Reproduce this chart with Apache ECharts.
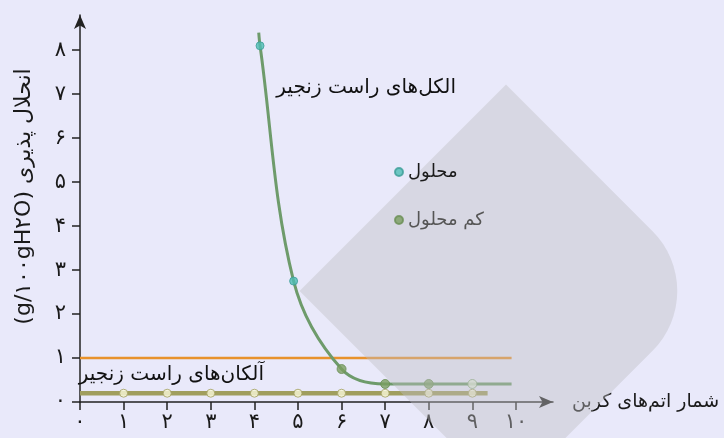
<!DOCTYPE html>
<html>
<head>
<meta charset="utf-8">
<script src="https://cdn.jsdelivr.net/npm/echarts@6/dist/echarts.min.js"></script>
<style>
  html, body { margin: 0; padding: 0; background: #E9E9FA; }
  #chart { width: 724px; height: 438px; }
</style>
</head>
<body>
<div id="chart" dir="rtl"></div>
<script>
// ---- data ----
const xTicks = [0, 1, 2, 3, 4, 5, 6, 7, 8, 9, 10];
const yTicks = [0, 1, 2, 3, 4, 5, 6, 7, 8];
const faDigits = ['۰', '۱', '۲', '۳', '۴', '۵', '۶', '۷', '۸', '۹'];

// straight-chain alcohols (curve drawn through these)
const alcoholX = [4.1, 4.13, 4.9, 6, 7, 8, 9, 9.9];
const alcoholY = [8.4, 8.1, 2.75, 0.75, 0.41, 0.41, 0.41, 0.41];
// soluble points
const solubleX = [4.13, 4.9];
const solubleY = [8.1, 2.75];
// slightly soluble points
const lessSolubleX = [6, 7, 8];
const lessSolubleY = [0.75, 0.41, 0.41];
// faded point at end of alcohol line
const fadedX = [9];
const fadedY = [0.41];

// straight-chain alkanes
const alkaneLineX = [0, 9.35];
const alkaneLineY = [0.2, 0.2];
const alkaneX = [1, 2, 3, 4, 5, 6, 7, 8, 9];
const alkaneY = [0.2, 0.2, 0.2, 0.2, 0.2, 0.2, 0.2, 0.2, 0.2];

// reference line at 1 g
const refLineX = [0, 9.9];
const refLineY = [1, 1];

const toFa = n => String(n).split('').map(c => (c >= '0' && c <= '9') ? faDigits[+c] : c).join('');
const zip = (xs, ys) => xs.map((x, i) => [x, ys[i]]);

const chart = echarts.init(document.getElementById('chart'), null, { renderer: 'canvas' });
const font = "'DejaVu Sans', 'Noto Sans', sans-serif";

chart.setOption({
  backgroundColor: '#E9E9FA',
  animation: false,
  textStyle: { fontFamily: font },
  grid: { left: 80, right: 171, top: 15, bottom: 36 },
  legend: {
    orient: 'vertical',
    left: 389,
    top: 158,
    itemWidth: 8,
    itemHeight: 8,
    itemGap: 30,
    icon: 'circle',
    z: 20,
    selectedMode: false,
    data: [
      { name: 'محلول', textStyle: { color: '#1a1a1a' } },
      { name: 'کم محلول', textStyle: { color: '#555' } }
    ],
    textStyle: { fontSize: 18, fontFamily: font }
  },
  xAxis: {
    type: 'value',
    min: 0,
    max: 10.85,
    name: 'شمار اتم‌های کربن',
    nameLocation: 'end',
    nameGap: 19,
    nameTextStyle: { fontSize: 19, color: '#1a1a1a', fontFamily: font, verticalAlign: 'middle', padding: [0, 0, 8, 0] },
    axisLine: { lineStyle: { color: '#222', width: 1.5 }, symbol: ['none', 'arrow'], symbolSize: [9, 14] },
    axisTick: { show: true, length: 8, lineStyle: { color: '#222', width: 1.5 }, customValues: xTicks },
    axisLabel: { customValues: xTicks, formatter: v => toFa(v), fontSize: 21, color: '#1a1a1a', margin: 10, fontFamily: font },
    splitLine: { show: false }
  },
  yAxis: {
    type: 'value',
    min: 0,
    max: 8.8,
    name: 'انحلال پذیری (g/۱۰۰gH۲O)',
    nameLocation: 'middle',
    nameRotate: 90,
    nameGap: 45,
    nameTextStyle: { fontSize: 22, color: '#1a1a1a', fontFamily: font, padding: [0, 0, 0, 24] },
    axisLine: { show: true, lineStyle: { color: '#222', width: 1.5 }, symbol: ['none', 'arrow'], symbolSize: [9, 14] },
    axisTick: { show: true, length: 8, lineStyle: { color: '#222', width: 1.5 }, customValues: yTicks },
    axisLabel: { customValues: yTicks, formatter: v => toFa(v), fontSize: 21, color: '#1a1a1a', margin: 14, fontFamily: font },
    splitLine: { show: false }
  },
  graphic: [
    {
      type: 'rect',
      x: 506, y: 291,
      rotation: -Math.PI / 4,
      shape: { x: -146, y: -146, width: 292, height: 292, r: [0, 85, 0, 0] },
      style: { fill: 'rgba(190,190,195,0.42)' },
      z: 10,
      silent: true
    },
    {
      type: 'text',
      x: 456, y: 88,
      style: { text: 'الکل‌های راست زنجیر', fill: '#111', font: "20px 'DejaVu Sans', sans-serif", align: 'right', verticalAlign: 'middle' },
      z: 20
    },
    {
      type: 'text',
      x: 264, y: 375,
      style: { text: 'آلکان‌های راست زنجیر', fill: '#111', font: "20px 'DejaVu Sans', sans-serif", align: 'right', verticalAlign: 'middle' },
      z: 20
    }
  ],
  series: [
    {
      name: 'ref',
      type: 'line',
      data: zip(refLineX, refLineY),
      symbol: 'none',
      lineStyle: { color: '#E8922C', width: 2.5 },
      silent: true, z: 2
    },
    {
      name: 'alkane-line',
      type: 'line',
      data: zip(alkaneLineX, alkaneLineY),
      symbol: 'none',
      lineStyle: { color: '#A09E5E', width: 4.5 },
      silent: true, z: 2
    },
    {
      name: 'alkane',
      type: 'scatter',
      data: zip(alkaneX, alkaneY),
      symbolSize: 8,
      itemStyle: { color: '#F9F7D8', borderColor: '#A09E5E', borderWidth: 1 },
      silent: true, z: 3
    },
    {
      name: 'alcohol',
      type: 'line',
      data: zip(alcoholX, alcoholY),
      smooth: 0.35,
      symbol: 'none',
      lineStyle: { color: '#6E9B6B', width: 3 },
      silent: true, z: 2
    },
    {
      name: 'محلول',
      type: 'scatter',
      data: zip(solubleX, solubleY),
      symbolSize: 8,
      itemStyle: { color: '#4DBDB5', borderColor: '#3C9D97', borderWidth: 1 },
      silent: true, z: 4
    },
    {
      name: 'کم محلول',
      type: 'scatter',
      data: zip(lessSolubleX, lessSolubleY),
      symbolSize: 9,
      itemStyle: { color: '#7A9E60', borderColor: '#6A8E55', borderWidth: 1 },
      silent: true, z: 4
    },
    {
      name: 'faded',
      type: 'scatter',
      data: zip(fadedX, fadedY),
      symbolSize: 9,
      itemStyle: { color: '#E2ECD8', borderColor: '#84A878', borderWidth: 1 },
      silent: true, z: 4
    }
  ]
});
</script>
</body>
</html>
